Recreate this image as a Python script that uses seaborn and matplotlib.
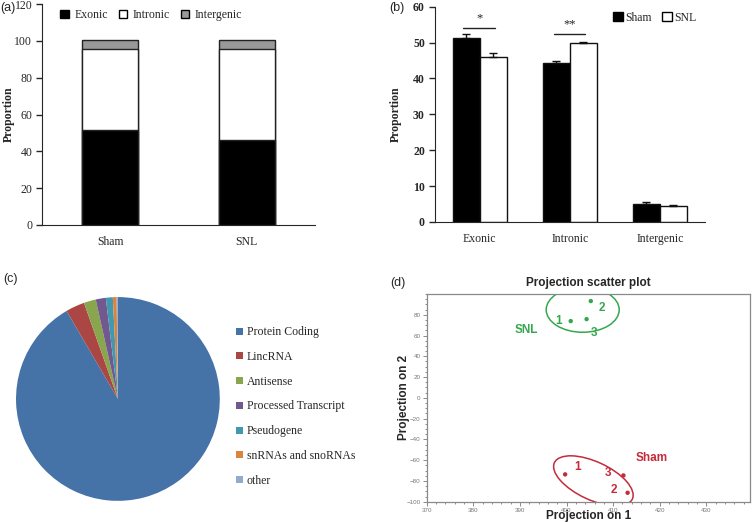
import numpy as np
import pandas as pd
import matplotlib
matplotlib.use("Agg")
import matplotlib.pyplot as plt
import matplotlib.transforms as mtransforms
from matplotlib.patches import Patch, Ellipse
from matplotlib.ticker import MultipleLocator, FixedLocator
import seaborn as sns

# --- (a)/(b) read region proportions ---
regions = ["Exonic", "Intronic", "Intergenic"]
groups = ["Sham", "SNL"]
sham_pct = [51.4, 44.3, 5.1]
snl_pct = [46.0, 49.8, 4.5]
sham_err = [1.1, 0.7, 0.3]
snl_err = [1.1, 0.5, 0.1]
sig_marks = ["*", "**", ""]
sig_heights = [54.2, 52.3, None]

# --- (c) gene biotypes ---
biotypes = ["Protein Coding", "LincRNA", "Antisense", "Processed Transcript",
            "Pseudogene", "snRNAs and snoRNAs", "other"]
biotype_pct = [91.6, 3.0, 1.9, 1.6, 1.1, 0.6, 0.2]
biotype_colors = ["#4572a7", "#aa4643", "#89a54e", "#71588f",
                  "#4198af", "#db843d", "#93a9cf"]

# --- (d) projection scatter ---
sample_ids = ["1", "2", "3"]
snl_proj1 = [400.9, 405.2, 404.3]
snl_proj2 = [73.9, 93.2, 75.8]
sham_proj1 = [399.7, 413.1, 412.2]
sham_proj2 = [-73.7, -91.4, -74.7]

GREEN = "#35a84f"
RED = "#c42b3b"

sns.set_style("ticks")
plt.rcParams["font.family"] = ["Liberation Serif", "DejaVu Serif"]
plt.rcParams["font.size"] = 8.5

fig = plt.figure(figsize=(7.52, 5.22), dpi=100)

# ---------------- (a) stacked bars ----------------
ax_a = fig.add_axes([0.0559, 0.569, 0.363, 0.423])
stack = pd.DataFrame({"group": groups,
                      "Exonic": [sham_pct[0], snl_pct[0]],
                      "Intronic": [sham_pct[1], snl_pct[1]],
                      "Intergenic": [sham_pct[2], snl_pct[2]]})
stack["mid"] = stack["Exonic"] + stack["Intronic"]
stack["total"] = stack["mid"] + stack["Intergenic"]
for col, fc in [("total", "#999999"), ("mid", "white"), ("Exonic", "black")]:
    sns.barplot(data=stack, x="group", y=col, color=fc, saturation=1,
                width=0.41, edgecolor="#222222", linewidth=1, ax=ax_a)
ax_a.set_xlim(-0.5, 1.5)
ax_a.set_ylim(0, 120)
ax_a.yaxis.set_major_locator(MultipleLocator(20))
ax_a.set_xlabel("")
ax_a.set_ylabel("Proportion", fontweight="bold")
ax_a.yaxis.set_label_coords(-0.10, 0.5)
ax_a.tick_params(axis="x", length=0, pad=8)
ax_a.tick_params(axis="y", length=4, width=1, direction="out", pad=3)
sns.despine(ax=ax_a)
ax_a.legend(handles=[Patch(fc="black", ec="black"),
                     Patch(fc="white", ec="black"),
                     Patch(fc="#999999", ec="black")],
            labels=["Exonic", "Intronic", "Intergenic"], ncol=3,
            loc="upper left", bbox_to_anchor=(0.05, 1.0), frameon=False,
            handlelength=0.7, handleheight=0.7, handletextpad=0.5,
            columnspacing=0.9, fontsize=8.5, borderaxespad=0)

# ---------------- (b) grouped bars ----------------
ax_b = fig.add_axes([0.578, 0.575, 0.3595, 0.412])
long = pd.DataFrame({"region": regions * 2,
                     "group": ["Sham"] * 3 + ["SNL"] * 3,
                     "value": sham_pct + snl_pct,
                     "err": sham_err + snl_err})
sns.barplot(data=long, x="region", y="value", hue="group",
            palette={"Sham": "black", "SNL": "white"}, saturation=1,
            width=0.6, edgecolor="#111111", linewidth=1, legend=False, ax=ax_b)
for cont, errs in zip(ax_b.containers, [sham_err, snl_err]):
    xs = [b.get_x() + b.get_width() / 2 for b in cont]
    hs = [b.get_height() for b in cont]
    ax_b.errorbar(xs, hs, yerr=[np.zeros(len(errs)), errs], fmt="none",
                  ecolor="#111111", elinewidth=1, capsize=3, capthick=1)
for i, (mark, h) in enumerate(zip(sig_marks, sig_heights)):
    if mark:
        ax_b.plot([i - 0.18, i + 0.17], [h, h], color="#222222", lw=1)
        ax_b.text(i, h + 1.0, mark, ha="center", va="bottom", fontsize=9)
ax_b.set_xlim(-0.5, 2.5)
ax_b.set_ylim(0, 60)
ax_b.yaxis.set_major_locator(MultipleLocator(10))
ax_b.set_xlabel("")
ax_b.set_ylabel("Proportion", fontweight="bold")
ax_b.yaxis.set_label_coords(-0.12, 0.5)
for lab in ax_b.get_yticklabels():
    lab.set_fontweight("bold")
ax_b.tick_params(axis="x", length=0, pad=8)
ax_b.tick_params(axis="y", length=4, width=1, direction="out", pad=3)
sns.despine(ax=ax_b)
ax_b.legend(handles=[Patch(fc="black", ec="black"), Patch(fc="white", ec="black")],
            labels=["Sham", "SNL"], ncol=2, loc="upper right",
            bbox_to_anchor=(0.985, 1.0), frameon=False, handlelength=0.8,
            handleheight=0.8, handletextpad=0.2, columnspacing=0.9,
            fontsize=8.5, borderaxespad=0)

# ---------------- (c) pie ----------------
ax_c = fig.add_axes([0.0213, 0.0402, 0.271, 0.391])
wedges, _ = ax_c.pie(biotype_pct, colors=biotype_colors, startangle=90,
                     counterclock=False, wedgeprops={"linewidth": 0})
ax_c.set_xlim(-1.0, 1.0)
ax_c.set_ylim(-1.0, 1.0)
ax_c.set_aspect("equal")
fig.legend(handles=[Patch(fc=c, ec="none") for c in biotype_colors],
           labels=biotypes, loc="upper left", bbox_to_anchor=(0.314, 0.375),
           frameon=False, handlelength=0.55, handleheight=0.55,
           handletextpad=0.35, labelspacing=1.08, fontsize=8.5,
           borderaxespad=0, borderpad=0)

# ---------------- (d) projection scatter ----------------
sans = ["Liberation Sans", "DejaVu Sans"]
ax_d = fig.add_axes([0.5674, 0.0389, 0.4296, 0.3979])
proj = pd.DataFrame({"p1": snl_proj1 + sham_proj1,
                     "p2": snl_proj2 + sham_proj2,
                     "group": ["SNL"] * 3 + ["Sham"] * 3,
                     "sample": sample_ids * 2})
sns.scatterplot(data=proj, x="p1", y="p2", hue="group",
                palette={"SNL": GREEN, "Sham": RED}, s=10, linewidth=0,
                legend=False, ax=ax_d)
label_offsets = {"SNL": [(-9, 0), (8, -5), (5, -10)],
                 "Sham": [(9, 5), (-10, 2), (-11, 2)]}
for grp, sub in proj.groupby("group"):
    col = GREEN if grp == "SNL" else RED
    for (x, y, s), off in zip(sub[["p1", "p2", "sample"]].values, label_offsets[grp]):
        ax_d.annotate(s, (x, y), xytext=off, textcoords="offset points",
                      ha="center", va="center", color=col, fontsize=8.5,
                      fontweight="bold", family=sans)
    # ellipse drawn in screen inches around the group's mean
    cx, cy = sub["p1"].mean(), sub["p2"].mean()
    if grp == "SNL":
        w, h, ang, dx, dy = 0.73, 0.45, 0, 0.0, 0.04
    else:
        w, h, ang, dx, dy = 0.86, 0.38, -25, -0.12, 0.0
    tr = fig.dpi_scale_trans + mtransforms.ScaledTranslation(cx, cy, ax_d.transData)
    ax_d.add_patch(Ellipse((dx, dy), w, h, angle=ang, fill=False, ec=col,
                           lw=1.1, transform=tr))
ax_d.text(391.4, 64.9, "SNL", color=GREEN, fontsize=8.5, fontweight="bold",
          family=sans, ha="center", va="center")
ax_d.text(418.2, -58.3, "Sham", color=RED, fontsize=8.5, fontweight="bold",
          family=sans, ha="center", va="center")
ax_d.set_xlim(370, 439.3)
ax_d.set_ylim(-100, 100)
ax_d.xaxis.set_major_locator(FixedLocator(np.arange(370, 431, 10)))
ax_d.yaxis.set_major_locator(FixedLocator(np.arange(-100, 81, 20)))
ax_d.xaxis.set_minor_locator(MultipleLocator(2))
ax_d.yaxis.set_minor_locator(MultipleLocator(5))
ax_d.tick_params(which="both", direction="out", colors="#777777",
                 labelsize=4.5, width=0.6, pad=1.5)
ax_d.tick_params(which="major", length=3)
ax_d.tick_params(which="minor", length=1.5)
for lab in ax_d.get_xticklabels() + ax_d.get_yticklabels():
    lab.set_family(sans)
for sp in ax_d.spines.values():
    sp.set_color("#8a8a8a")
    sp.set_linewidth(0.9)
ax_d.set_xlabel("Projection on 1", fontsize=8.5, fontweight="bold",
                family=sans, va="top")
ax_d.xaxis.set_label_coords(0.5, -0.04)
ax_d.set_ylabel("Projection on 2", fontsize=8.5, fontweight="bold",
                family=sans)
ax_d.yaxis.set_label_coords(-0.052, 0.5)
ax_d.set_title("Projection scatter plot", fontsize=8.5, fontweight="bold",
               family=sans, pad=6)

# panel letters
for txt, x, y in [("(a)", 0.0, 0.985), ("(b)", 0.517, 0.985),
                  ("(c)", 0.004, 0.465), ("(d)", 0.519, 0.458)]:
    fig.text(x, y, txt, fontsize=9, family=sans, va="center")

fig.savefig("out.png", dpi=100)
